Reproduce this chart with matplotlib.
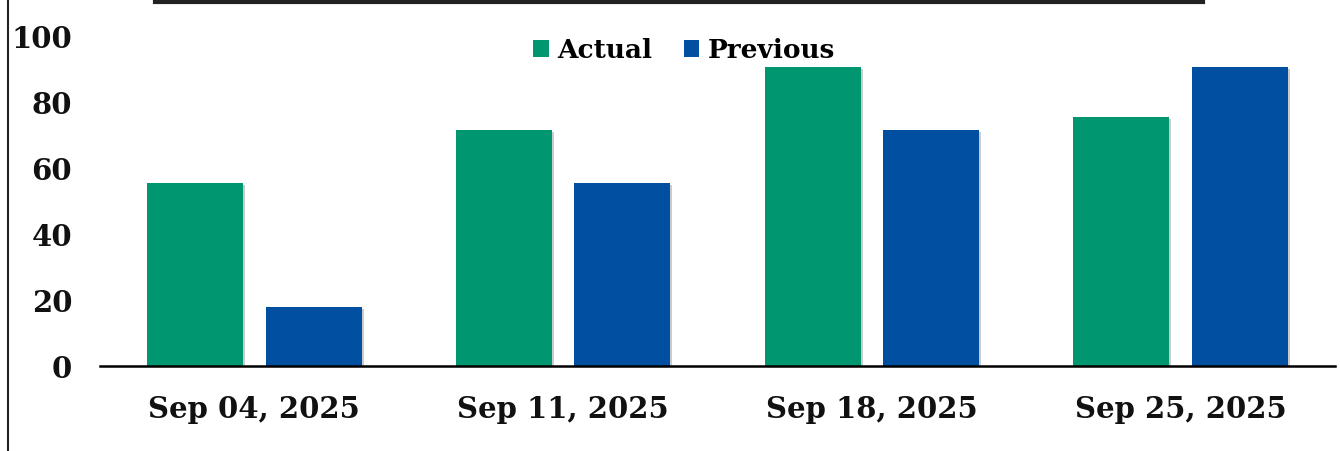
import matplotlib
matplotlib.use('Agg')
import matplotlib.pyplot as plt
import matplotlib.patheffects as pe
from matplotlib.lines import Line2D
import numpy as np

plt.rcParams['font.family'] = ['DejaVu Serif']
plt.rcParams['font.weight'] = 'bold'

dates = ['Sep 04, 2025', 'Sep 11, 2025', 'Sep 18, 2025', 'Sep 25, 2025']
actual = [55.4, 71.4, 90.5, 75.4]
previous = [17.9, 55.4, 71.4, 90.5]
yticks = [0, 20, 40, 60, 80, 100]

GREEN = '#00966F'
BLUE = '#004FA0'

fig = plt.figure(figsize=(13.4, 4.51), dpi=100)
ax = fig.add_axes([100 / 1340, 85 / 451, 1235 / 1340, 363 / 451])

x = np.arange(len(dates))
w = 0.311
off = 0.192
shadow = [pe.SimplePatchShadow(offset=(1.5, -1.5), shadow_rgbFace='#999999', alpha=0.5), pe.Normal()]
b1 = ax.bar(x - off, actual, w, color=GREEN, label='Actual', path_effects=shadow)
b2 = ax.bar(x + off, previous, w, color=BLUE, label='Previous', path_effects=shadow)

ax.set_xlim(-0.5, 3.5)
ax.set_ylim(0, 110)
ax.set_yticks(yticks)
ax.set_xticks(x)
ax.set_xticklabels(dates)
ax.tick_params(axis='both', length=0, labelsize=21, colors='#111111')
ax.tick_params(axis='y', pad=20)
ax.tick_params(axis='x', pad=21)
for lab in ax.get_xticklabels() + ax.get_yticklabels():
    lab.set_fontweight('bold')

for s in ['top', 'right', 'left']:
    ax.spines[s].set_visible(False)
ax.spines['bottom'].set_linewidth(1.8)
ax.spines['bottom'].set_color('black')

leg = fig.legend(handles=[b1, b2], loc='center', bbox_to_anchor=(684 / 1340, 1 - 50 / 451),
                 ncol=2, frameon=False, handlelength=0.6, handleheight=0.6,
                 handletextpad=0.3, columnspacing=1.2, prop={'weight': 'bold', 'size': 19})
for h in leg.legend_handles:
    h.set_path_effects([])

# frame remnants around the chart
fig.add_artist(Line2D([155 / 1340, 1203 / 1340], [1 - 2 / 451, 1 - 2 / 451],
                      color='#222222', lw=3, transform=fig.transFigure))
fig.add_artist(Line2D([8 / 1340, 8 / 1340], [0, 1], color='#222222', lw=1.5,
                      transform=fig.transFigure))

fig.savefig('out.png', dpi=100)
